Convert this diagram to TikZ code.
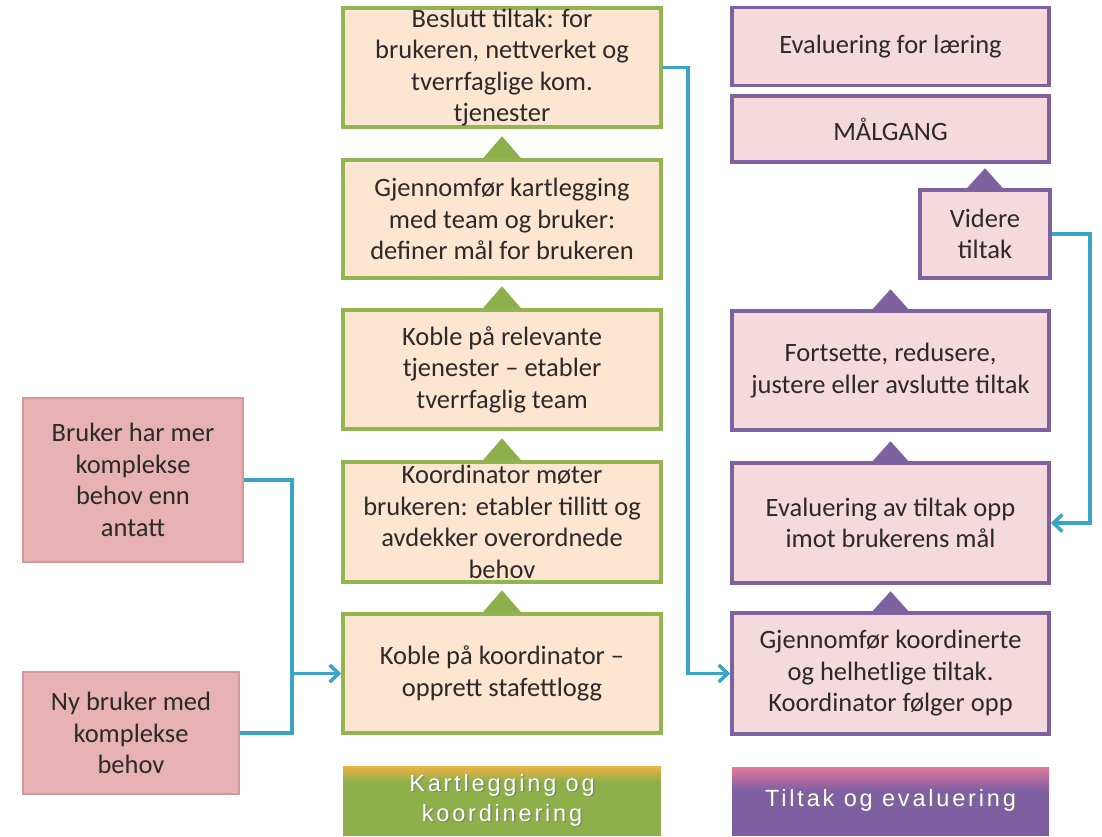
\documentclass[tikz,border=0pt]{standalone}
\usepackage{fontspec}
\setmainfont{Carlito}
\newfontfamily\labelfont[LetterSpace=12]{Liberation Sans}
\usetikzlibrary{arrows.meta,calc}
\definecolor{gborder}{HTML}{92B551}
\definecolor{gfill}{HTML}{FCE6D2}
\definecolor{gtri}{HTML}{8DB04C}
\definecolor{pborder}{HTML}{7E62A0}
\definecolor{pfill}{HTML}{F4DADD}
\definecolor{ptri}{HTML}{7E62A0}
\definecolor{rfill}{HTML}{E6B2B4}
\definecolor{rborder}{HTML}{D6979B}
\definecolor{cblue}{HTML}{3BA3C4}
\definecolor{txt}{HTML}{2E2828}
\definecolor{glabel}{HTML}{8DB04A}
\definecolor{olabel}{HTML}{F2B244}
\definecolor{plabel}{HTML}{7F5FA2}
\definecolor{pklabel}{HTML}{E37A9A}
\tikzset{
  boxtext/.style={align=center, inner sep=0pt, text=txt, font=\fontsize{26.5}{31.5}\selectfont},
  gbox/.style={boxtext, draw=gborder, line width=3.5pt, fill=gfill, minimum width=318, minimum height=119},
  pbox/.style={boxtext, draw=pborder, line width=3.5pt, fill=pfill, minimum width=317, minimum height=119},
  rbox/.style={boxtext, draw=rborder, line width=2pt, fill=rfill},
  conn/.style={draw=cblue, line width=3.5pt},
  arr/.style={conn, -{Straight Barb[length=9pt,width=17pt]}},
  labtext/.style={align=center, inner sep=0pt, text=white, font=\labelfont\fontsize{23.5}{30}\selectfont},
  labshadow/.style={align=center, inner sep=0pt, text=black!55, opacity=0.6, font=\labelfont\fontsize{23.5}{30}\selectfont},
}
\begin{document}
\begin{tikzpicture}[x=1pt,y=-1pt]
\useasboundingbox (0,0) rectangle (1102,836);
\fill[white] (0,0) rectangle (1102,836);

% green column
\node[gbox, minimum height=119] (g1) at (502,67.5) {Beslutt tiltak: for\\brukeren, nettverket og\\tverrfaglige kom.\\tjenester};
\node[gbox, minimum height=118] (g2) at (502,219) {Gjennomfør kartlegging\\med team og bruker:\\definer mål for brukeren};
\node[gbox, minimum height=119] (g3) at (502,369.5) {Koble på relevante\\tjenester – etabler\\tverrfaglig team};
\node[gbox, minimum height=120] (g4) at (502,522) {Koordinator møter\\brukeren: etabler tillitt og\\avdekker overordnede\\behov};
\node[gbox, minimum height=119] (g5) at (502,673.5) {Koble på koordinator –\\opprett stafettlogg};

\foreach \b in {g2,g3,g4,g5}{
  \fill[gtri] (\b.north) ++(-19,0) -- ++(19,-22) -- ++(19,22) -- cycle;
}

% purple column
\node[pbox, minimum height=78] (p1) at (890.5,46.5) {Evaluering for læring};
\node[pbox, minimum height=66] (p2) at (890.5,129) {MÅLGANG};
\node[pbox, minimum width=130, minimum height=88] (p3) at (985,234) {Videre\\tiltak};
\node[pbox, minimum height=119] (p4) at (890.5,370.5) {Fortsette, redusere,\\justere eller avslutte tiltak};
\node[pbox, minimum height=120] (p5) at (890.5,523) {Evaluering av tiltak opp\\imot brukerens mål};
\node[pbox, minimum height=121] (p6) at (890.5,673.5) {Gjennomfør koordinerte\\og helhetlige tiltak.\\Koordinator følger opp};

\foreach \b in {p3,p4,p5,p6}{
  \fill[ptri] (\b.north) ++(-18,0) -- ++(18,-20) -- ++(18,20) -- cycle;
}

% left boxes
\node[rbox, minimum width=220, minimum height=164] (b1) at (133,480) {Bruker har mer\\komplekse\\behov enn\\antatt};
\node[rbox, minimum width=216, minimum height=122] (b2) at (131,733) {Ny bruker med\\komplekse\\behov};

% bottom labels
\fill[glabel] (343,766) rectangle (661,836);
\shade[top color=olabel, bottom color=glabel] (343,766) rectangle (661,782);
\node[labshadow] at (503.5,801.5) {Kartlegging og\\koordinering};
\node[labtext] (lg) at (502,800) {Kartlegging og\\koordinering};

\fill[plabel] (732,767) rectangle (1049,836);
\shade[top color=pklabel, bottom color=plabel] (732,767) rectangle (1049,790);
\node[labshadow] at (892,802) {Tiltak og evaluering};
\node[labtext] (lp) at (890.5,800.5) {Tiltak og evaluering};

% connectors
\coordinate (jl) at (292,673.5);
\draw[conn] (b1.east) -| (jl) |- (b2.east);
\draw[arr] (jl) -- (g5.west);

\draw[arr] (g1.east) -- ++(25,0) |- (p6.west);

\draw[arr] (p3.east) -- ++(38,0) |- (p5.east);
\end{tikzpicture}
\end{document}
